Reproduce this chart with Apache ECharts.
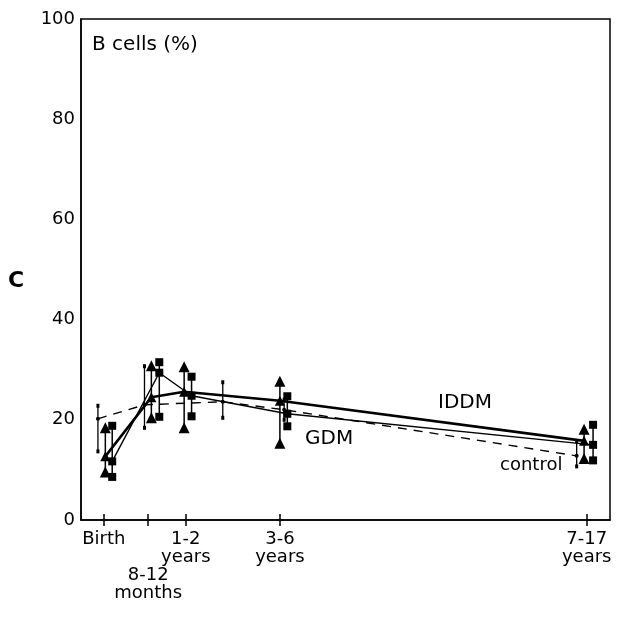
<!DOCTYPE html>
<html>
<head>
<meta charset="utf-8">
<script src="https://cdn.jsdelivr.net/npm/echarts@6.0.0/dist/echarts.min.js"></script>
<style>
  html, body { margin: 0; padding: 0; background: #fff; }
  #chart { width: 623px; height: 620px; }
</style>
</head>
<body>
<div id="chart"></div>
<script>
// age groups on the x axis (position along the drawn age scale, 0-100)
const ageLabels = ['Birth', '8-12\nmonths', '1-2\nyears', '3-6\nyears', '7-17\nyears']
const ageTicks = [4.3, 12.7, 19.8, 37.6, 95.6]

// IDDM (triangles)
const iddmX = [4.6, 13.3, 19.5, 37.6, 95.1]
const iddmMean = [12.7, 24.5, 25.6, 23.8, 15.8]
const iddmLow = [9.6, 20.4, 18.4, 15.3, 12.3]
const iddmHigh = [18.4, 30.8, 30.6, 27.7, 18.1]

// GDM (squares)
const gdmX = [5.9, 14.8, 20.9, 39.0, 96.8]
const gdmMean = [11.7, 29.4, 24.8, 21.2, 15.0]
const gdmLow = [8.6, 20.6, 20.7, 18.7, 11.9]
const gdmHigh = [18.8, 31.5, 28.6, 24.7, 19.0]

// control (dots, dashed)
const ctrlX = [3.2, 12.0, 26.8, 38.4, 93.7]
const ctrlMean = [20.2, 23.0, 23.6, 22.0, 12.8]
const ctrlLow = [13.7, 18.4, 20.4, 20.0, 10.7]
const ctrlHigh = [22.8, 30.7, 27.5, 24.0, 15.7]

const FONT = 'DejaVu Sans'

// 8-12 months sits one row lower than the others
const upperTicks = ageTicks.filter((v, i) => i !== 1)
const lowerTicks = [ageTicks[1]]

function zip (xs, ys) {
  return xs.map((x, i) => [x, ys[i]])
}

function ends (xs, lo, hi) {
  return zip(xs, lo).concat(zip(xs, hi))
}

function ageFormatter (v) {
  const i = ageTicks.indexOf(v)
  return i >= 0 ? ageLabels[i] : ''
}

function barSeries (xs, lo, hi, width) {
  return {
    type: 'custom',
    data: xs.map((x, i) => [x, lo[i], hi[i]]),
    z: 3,
    silent: true,
    renderItem: function (params, api) {
      const p1 = api.coord([api.value(0), api.value(1)])
      const p2 = api.coord([api.value(0), api.value(2)])
      return {
        type: 'line',
        shape: { x1: p1[0], y1: p1[1], x2: p2[0], y2: p2[1] },
        style: { stroke: '#000', lineWidth: width }
      }
    }
  }
}

const chart = echarts.init(document.getElementById('chart'))

const option = {
  animation: false,
  textStyle: { fontFamily: FONT, color: '#000' },
  grid: {
    left: 81, right: 13, top: 19, bottom: 100,
    show: true, borderColor: '#000', borderWidth: 1.5
  },
  xAxis: [
    {
      type: 'value',
      min: 0,
      max: 100,
      axisLine: { lineStyle: { color: '#000', width: 1.5 } },
      splitLine: { show: false },
      axisTick: { show: true, customValues: ageTicks, length: 6, lineStyle: { color: '#000', width: 1.5 } },
      axisLabel: {
        customValues: upperTicks,
        hideOverlap: false,
        showMinLabel: true,
        showMaxLabel: true,
        margin: 10,
        fontSize: 18,
        lineHeight: 18,
        color: '#000',
        fontFamily: FONT,
        formatter: ageFormatter
      }
    },
    {
      type: 'value',
      min: 0,
      max: 100,
      position: 'bottom',
      axisLine: { show: false },
      splitLine: { show: false },
      axisTick: { show: true, inside: true, customValues: ageTicks, length: 6, lineStyle: { color: '#000', width: 1.5 } },
      axisLabel: {
        customValues: lowerTicks,
        hideOverlap: false,
        margin: 46,
        fontSize: 18,
        lineHeight: 18,
        color: '#000',
        fontFamily: FONT,
        formatter: ageFormatter
      }
    }
  ],
  yAxis: {
    type: 'value',
    min: 0,
    max: 100,
    interval: 20,
    axisLine: { show: true, lineStyle: { color: '#000', width: 1.5 } },
    axisTick: { show: false },
    splitLine: { show: false },
    axisLabel: { fontSize: 18, color: '#000', margin: 6, fontFamily: FONT }
  },
  graphic: [
    { type: 'text', left: 92, top: 35, style: { text: 'B cells (%)', font: '20px "DejaVu Sans"', fill: '#000' } },
    { type: 'text', left: 8, top: 270, style: { text: 'C', font: 'bold 22px "DejaVu Sans"', fill: '#000' } },
    { type: 'text', left: 438, top: 393, style: { text: 'IDDM', font: '20px "DejaVu Sans"', fill: '#000' } },
    { type: 'text', left: 305, top: 429, style: { text: 'GDM', font: '20px "DejaVu Sans"', fill: '#000' } },
    { type: 'text', left: 500, top: 456, style: { text: 'control', font: '18px "DejaVu Sans"', fill: '#000' } }
  ],
  series: [
    barSeries(ctrlX, ctrlLow, ctrlHigh, 1.3),
    barSeries(iddmX, iddmLow, iddmHigh, 1.5),
    barSeries(gdmX, gdmLow, gdmHigh, 1.5),
    {
      name: 'control',
      type: 'line',
      data: zip(ctrlX, ctrlMean),
      symbol: 'circle',
      symbolSize: 4,
      itemStyle: { color: '#000', opacity: 1 },
      lineStyle: { color: '#000', width: 1.4, type: [9, 7] },
      z: 4
    },
    {
      name: 'GDM',
      type: 'line',
      data: zip(gdmX, gdmMean),
      symbol: 'rect',
      symbolSize: 8,
      itemStyle: { color: '#000', opacity: 1 },
      lineStyle: { color: '#000', width: 1.4 },
      z: 4
    },
    {
      name: 'IDDM',
      type: 'line',
      data: zip(iddmX, iddmMean),
      symbol: 'triangle',
      symbolSize: [10, 10],
      itemStyle: { color: '#000', opacity: 1 },
      lineStyle: { color: '#000', width: 2.6 },
      z: 5
    },
    {
      type: 'scatter',
      data: ends(ctrlX, ctrlLow, ctrlHigh),
      symbol: 'rect',
      symbolSize: [3, 4],
      itemStyle: { color: '#000', opacity: 1 },
      z: 4
    },
    {
      type: 'scatter',
      data: ends(gdmX, gdmLow, gdmHigh),
      symbol: 'rect',
      symbolSize: 8,
      itemStyle: { color: '#000', opacity: 1 },
      z: 4
    },
    {
      type: 'scatter',
      data: ends(iddmX, iddmLow, iddmHigh),
      symbol: 'triangle',
      symbolSize: [11, 11],
      itemStyle: { color: '#000', opacity: 1 },
      z: 4
    }
  ]
}

chart.setOption(option)
</script>
</body>
</html>
